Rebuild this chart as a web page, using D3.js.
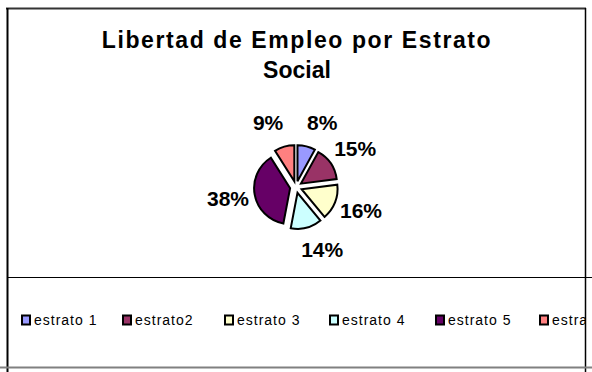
<!DOCTYPE html>
<html>
<head>
<meta charset="utf-8">
<script src="https://cdn.jsdelivr.net/npm/d3@7/dist/d3.min.js"></script>
<style>
  html, body { margin: 0; padding: 0; background: #fff; }
  svg { display: block; font-family: Arial, "Liberation Sans", sans-serif; }
</style>
</head>
<body>
<svg id="chart" width="592" height="372"></svg>
<script>
// Libertad de Empleo por Estrato Social
const categories = ["estrato 1", "estrato2", "estrato 3", "estrato 4", "estrato 5", "estrato 6"];
const values = [8, 15, 16, 14, 38, 9];
const colors = ["#9999FF", "#993366", "#FFFFCC", "#CCFFFF", "#660066", "#FF8080"];
const titleLines = ["Libertad de Empleo por Estrato", "Social"];

const svg = d3.select("#chart");

// frame: plot area box on top, legend box below
const frame = svg.append("g");
frame.append("line").attr("x1", 6).attr("x2", 586).attr("y1", 8.5).attr("y2", 8.5)
  .attr("stroke", "#333").attr("stroke-width", 2);
frame.append("line").attr("x1", 7.5).attr("x2", 7.5).attr("y1", 8).attr("y2", 372)
  .attr("stroke", "#000").attr("stroke-width", 2);
frame.append("line").attr("x1", 585.5).attr("x2", 585.5).attr("y1", 8).attr("y2", 372)
  .attr("stroke", "#000").attr("stroke-width", 1.5);
frame.append("line").attr("x1", 7).attr("x2", 592).attr("y1", 277.5).attr("y2", 277.5)
  .attr("stroke", "#000").attr("stroke-width", 1.2);
frame.append("line").attr("x1", 0).attr("x2", 592).attr("y1", 367.5).attr("y2", 367.5)
  .attr("stroke", "#808080").attr("stroke-width", 2);

// title
const title = svg.append("text")
  .attr("text-anchor", "middle")
  .attr("font-weight", "bold")
  .attr("font-size", 23)
  .attr("fill", "#000");
title.selectAll("tspan").data(titleLines).join("tspan")
  .attr("x", 297)
  .attr("y", (d, i) => 48 + i * 30)
  .attr("letter-spacing", (d, i) => i === 0 ? 1.6 : 0)
  .text(d => d);

// exploded pie
const cx = 296, cy = 187, r = 36, explode = 6;
const pie = d3.pie().sort(null).value(d => d.v);
const arcs = pie(values.map((v, i) => ({ v, i })));
const arc = d3.arc().innerRadius(0).outerRadius(r);
const total = d3.sum(values);
const mid = d => (d.startAngle + d.endAngle) / 2;

const g = svg.append("g").attr("transform", `translate(${cx},${cy})`);
g.selectAll("path").data(arcs).join("path")
  .attr("transform", d => `translate(${explode * Math.sin(mid(d))},${-explode * Math.cos(mid(d))})`)
  .attr("d", arc)
  .attr("fill", d => colors[d.data.i])
  .attr("stroke", "#000")
  .attr("stroke-width", 2)
  .attr("stroke-linejoin", "miter");

// percentage labels placed outside each slice, pushed sideways by half a label width
g.selectAll("text").data(arcs).join("text")
  .attr("x", d => 57 * Math.sin(mid(d)) + 12 * Math.sign(Math.sin(mid(d))))
  .attr("y", d => -66 * Math.cos(mid(d)) - 1)
  .attr("dy", "0.36em")
  .attr("text-anchor", "middle")
  .attr("font-weight", "bold")
  .attr("font-size", 21)
  .text(d => Math.round(d.data.v / total * 100) + "%");

// legend, clipped at the right edge of the frame
svg.append("clipPath").attr("id", "legclip")
  .append("rect").attr("x", 8).attr("y", 278).attr("width", 577).attr("height", 89);
const legendX = [21, 122, 224, 329, 435, 539];
const leg = svg.append("g").attr("clip-path", "url(#legclip)");
const items = leg.selectAll("g").data(categories).join("g")
  .attr("transform", (d, i) => `translate(${legendX[i]},315)`);
items.append("rect")
  .attr("x", 1).attr("y", 0.5).attr("width", 8).attr("height", 9)
  .attr("fill", (d, i) => colors[i])
  .attr("stroke", "#000").attr("stroke-width", 2);
items.append("text")
  .attr("x", 13).attr("y", 9.8)
  .attr("font-size", 14)
  .attr("letter-spacing", 1)
  .attr("fill", "#000")
  .text(d => d);
</script>
</body>
</html>
